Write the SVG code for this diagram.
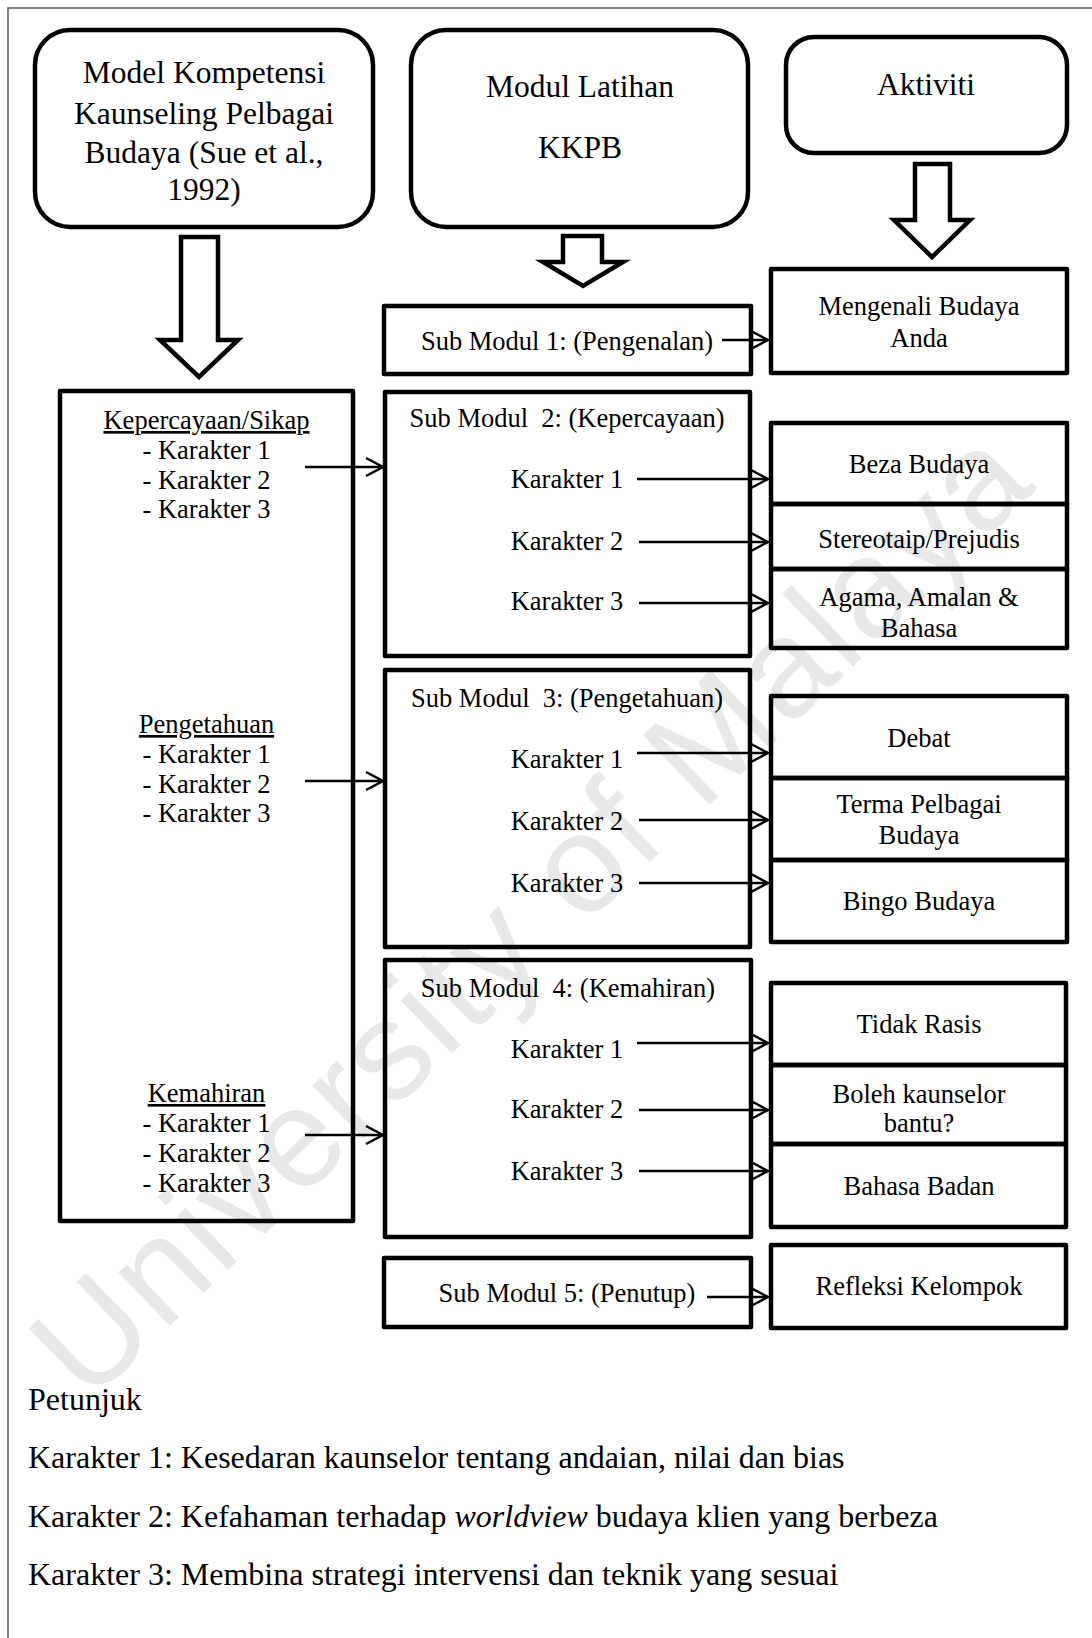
<svg xmlns="http://www.w3.org/2000/svg" width="1092" height="1638" viewBox="0 0 1092 1638">
<style>
text { font-family: "Liberation Serif", "Times New Roman", serif; fill: #000; }
.t { font-size: 26.5px; text-anchor: middle; }
.h { font-size: 31.5px; text-anchor: middle; }
.leg { font-size: 32px; }
.u { text-decoration: underline; }
.box { fill: none; stroke: #000; stroke-width: 4.5; stroke-linejoin: round; }
.blk { fill: none; stroke: #000; stroke-width: 4.5; stroke-linejoin: miter; }
.ln { stroke: #000; stroke-width: 2.5; fill: none; marker-end: url(#ah); }
.wm { font-family: "Liberation Sans", Arial, sans-serif; font-size: 140px; fill: #e8e8e8; }
</style>
<defs>
<marker id="ah" markerUnits="userSpaceOnUse" markerWidth="20" markerHeight="20" refX="17" refY="9" orient="auto" overflow="visible">
<path d="M0,0 L17,9 L0,18" fill="none" stroke="#000" stroke-width="2.5"/>
</marker>
</defs>
<rect x="0" y="0" width="1092" height="1638" fill="#fff"/>
<text class="wm" transform="translate(88,1405) rotate(-44)" textLength="1320" lengthAdjust="spacing">University of Malaya</text>
<rect x="8" y="8" width="1200" height="1700" fill="none" stroke="#555" stroke-width="1.5"/>

<g id="model-kompetensi">
<rect class="box" x="35" y="30" width="338" height="197" rx="35"/>
<text class="h" x="204" y="83">Model Kompetensi</text>
<text class="h" x="204" y="124">Kaunseling Pelbagai</text>
<text class="h" x="204" y="163">Budaya (Sue et al.,</text>
<text class="h" x="204" y="200">1992)</text>
</g>
<g id="modul-latihan">
<rect class="box" x="411" y="30" width="337" height="197" rx="35"/>
<text class="h" x="580" y="97">Modul Latihan</text>
<text class="h" x="580" y="158">KKPB</text>
</g>
<g id="aktiviti">
<rect class="box" x="786" y="37" width="281" height="116" rx="28"/>
<text class="h" x="926" y="95">Aktiviti</text>
</g>

<g id="block-arrows">
<polygon class="blk" points="181,237 218,237 218,340 238,340 199,377 160,340 181,340"/>
<polygon class="blk" points="563,236 602,236 602,262 623,262 583,286 543,262 563,262"/>
<polygon class="blk" points="915,164 950,164 950,220 970,220 932,257 894,220 915,220"/>
</g>

<g id="kompetensi-list">
<rect class="box" x="60" y="391" width="293" height="830"/>
<text class="t u" x="206.5" y="429">Kepercayaan/Sikap</text>
<text class="t" x="206.5" y="459">- Karakter 1</text>
<text class="t" x="206.5" y="489">- Karakter 2</text>
<text class="t" x="206.5" y="518">- Karakter 3</text>
<text class="t u" x="206.5" y="733">Pengetahuan</text>
<text class="t" x="206.5" y="763">- Karakter 1</text>
<text class="t" x="206.5" y="793">- Karakter 2</text>
<text class="t" x="206.5" y="822">- Karakter 3</text>
<text class="t u" x="206.5" y="1102">Kemahiran</text>
<text class="t" x="206.5" y="1132">- Karakter 1</text>
<text class="t" x="206.5" y="1162">- Karakter 2</text>
<text class="t" x="206.5" y="1192">- Karakter 3</text>
</g>

<g id="sub-modul-1">
<rect class="box" x="384" y="306" width="367" height="68"/>
<text class="t" x="567" y="350">Sub Modul 1: (Pengenalan)</text>
</g>
<g id="sub-modul-2">
<rect class="box" x="385" y="392" width="365" height="264"/>
<text class="t" x="567" y="427">Sub Modul&#160; 2: (Kepercayaan)</text>
<text class="t" x="567" y="488">Karakter 1</text>
<text class="t" x="567" y="550">Karakter 2</text>
<text class="t" x="567" y="610">Karakter 3</text>
</g>
<g id="sub-modul-3">
<rect class="box" x="385" y="670" width="365" height="277"/>
<text class="t" x="567" y="707">Sub Modul&#160; 3: (Pengetahuan)</text>
<text class="t" x="567" y="768">Karakter 1</text>
<text class="t" x="567" y="830">Karakter 2</text>
<text class="t" x="567" y="892">Karakter 3</text>
</g>
<g id="sub-modul-4">
<rect class="box" x="385" y="960" width="366" height="277"/>
<text class="t" x="568" y="997">Sub Modul&#160; 4: (Kemahiran)</text>
<text class="t" x="567" y="1058">Karakter 1</text>
<text class="t" x="567" y="1118">Karakter 2</text>
<text class="t" x="567" y="1180">Karakter 3</text>
</g>
<g id="sub-modul-5">
<rect class="box" x="384" y="1258" width="367" height="69"/>
<text class="t" x="567" y="1302">Sub Modul 5: (Penutup)</text>
</g>

<g id="act-mengenali">
<rect class="box" x="771" y="269" width="296" height="104"/>
<text class="t" x="919" y="315">Mengenali Budaya</text>
<text class="t" x="919" y="347">Anda</text>
</g>
<g id="act-beza">
<rect class="box" x="771" y="423" width="296" height="81"/>
<text class="t" x="919" y="473">Beza Budaya</text>
</g>
<g id="act-stereotaip">
<rect class="box" x="771" y="504" width="296" height="65"/>
<text class="t" x="919" y="548">Stereotaip/Prejudis</text>
</g>
<g id="act-agama">
<rect class="box" x="771" y="569" width="296" height="79"/>
<text class="t" x="919" y="606">Agama, Amalan &amp;</text>
<text class="t" x="919" y="637">Bahasa</text>
</g>
<g id="act-debat">
<rect class="box" x="771" y="696" width="296" height="82"/>
<text class="t" x="919" y="747">Debat</text>
</g>
<g id="act-terma">
<rect class="box" x="771" y="778" width="296" height="82"/>
<text class="t" x="919" y="813">Terma Pelbagai</text>
<text class="t" x="919" y="844">Budaya</text>
</g>
<g id="act-bingo">
<rect class="box" x="771" y="860" width="296" height="82"/>
<text class="t" x="919" y="910">Bingo Budaya</text>
</g>
<g id="act-tidak-rasis">
<rect class="box" x="771" y="983" width="295" height="82"/>
<text class="t" x="919" y="1033">Tidak Rasis</text>
</g>
<g id="act-boleh">
<rect class="box" x="771" y="1065" width="295" height="79"/>
<text class="t" x="919" y="1103">Boleh kaunselor</text>
<text class="t" x="919" y="1132">bantu?</text>
</g>
<g id="act-bahasa-badan">
<rect class="box" x="771" y="1144" width="295" height="83"/>
<text class="t" x="919" y="1195">Bahasa Badan</text>
</g>
<g id="act-refleksi">
<rect class="box" x="771" y="1245" width="295" height="83"/>
<text class="t" x="919" y="1295">Refleksi Kelompok</text>
</g>

<g id="connectors">
<line class="ln" x1="305" y1="467" x2="383" y2="467"/>
<line class="ln" x1="305" y1="781" x2="383" y2="781"/>
<line class="ln" x1="305" y1="1135" x2="383" y2="1135"/>
<line class="ln" x1="722" y1="340" x2="768" y2="340"/>
<line class="ln" x1="637" y1="479" x2="768" y2="479"/>
<line class="ln" x1="639" y1="542" x2="768" y2="542"/>
<line class="ln" x1="639" y1="603" x2="768" y2="603"/>
<line class="ln" x1="637" y1="753" x2="768" y2="753"/>
<line class="ln" x1="639" y1="820" x2="768" y2="820"/>
<line class="ln" x1="639" y1="883" x2="768" y2="883"/>
<line class="ln" x1="637" y1="1043" x2="768" y2="1043"/>
<line class="ln" x1="639" y1="1110" x2="768" y2="1110"/>
<line class="ln" x1="639" y1="1171" x2="768" y2="1171"/>
<line class="ln" x1="707" y1="1297" x2="768" y2="1297"/>
</g>

<g id="petunjuk">
<text class="leg" x="28" y="1410">Petunjuk</text>
<text class="leg" x="28" y="1468">Karakter 1: Kesedaran kaunselor tentang andaian, nilai dan bias</text>
<text class="leg" x="28" y="1527">Karakter 2: Kefahaman terhadap <tspan font-style="italic">worldview</tspan> budaya klien yang berbeza</text>
<text class="leg" x="28" y="1585">Karakter 3: Membina strategi intervensi dan teknik yang sesuai</text>
</g>
</svg>
